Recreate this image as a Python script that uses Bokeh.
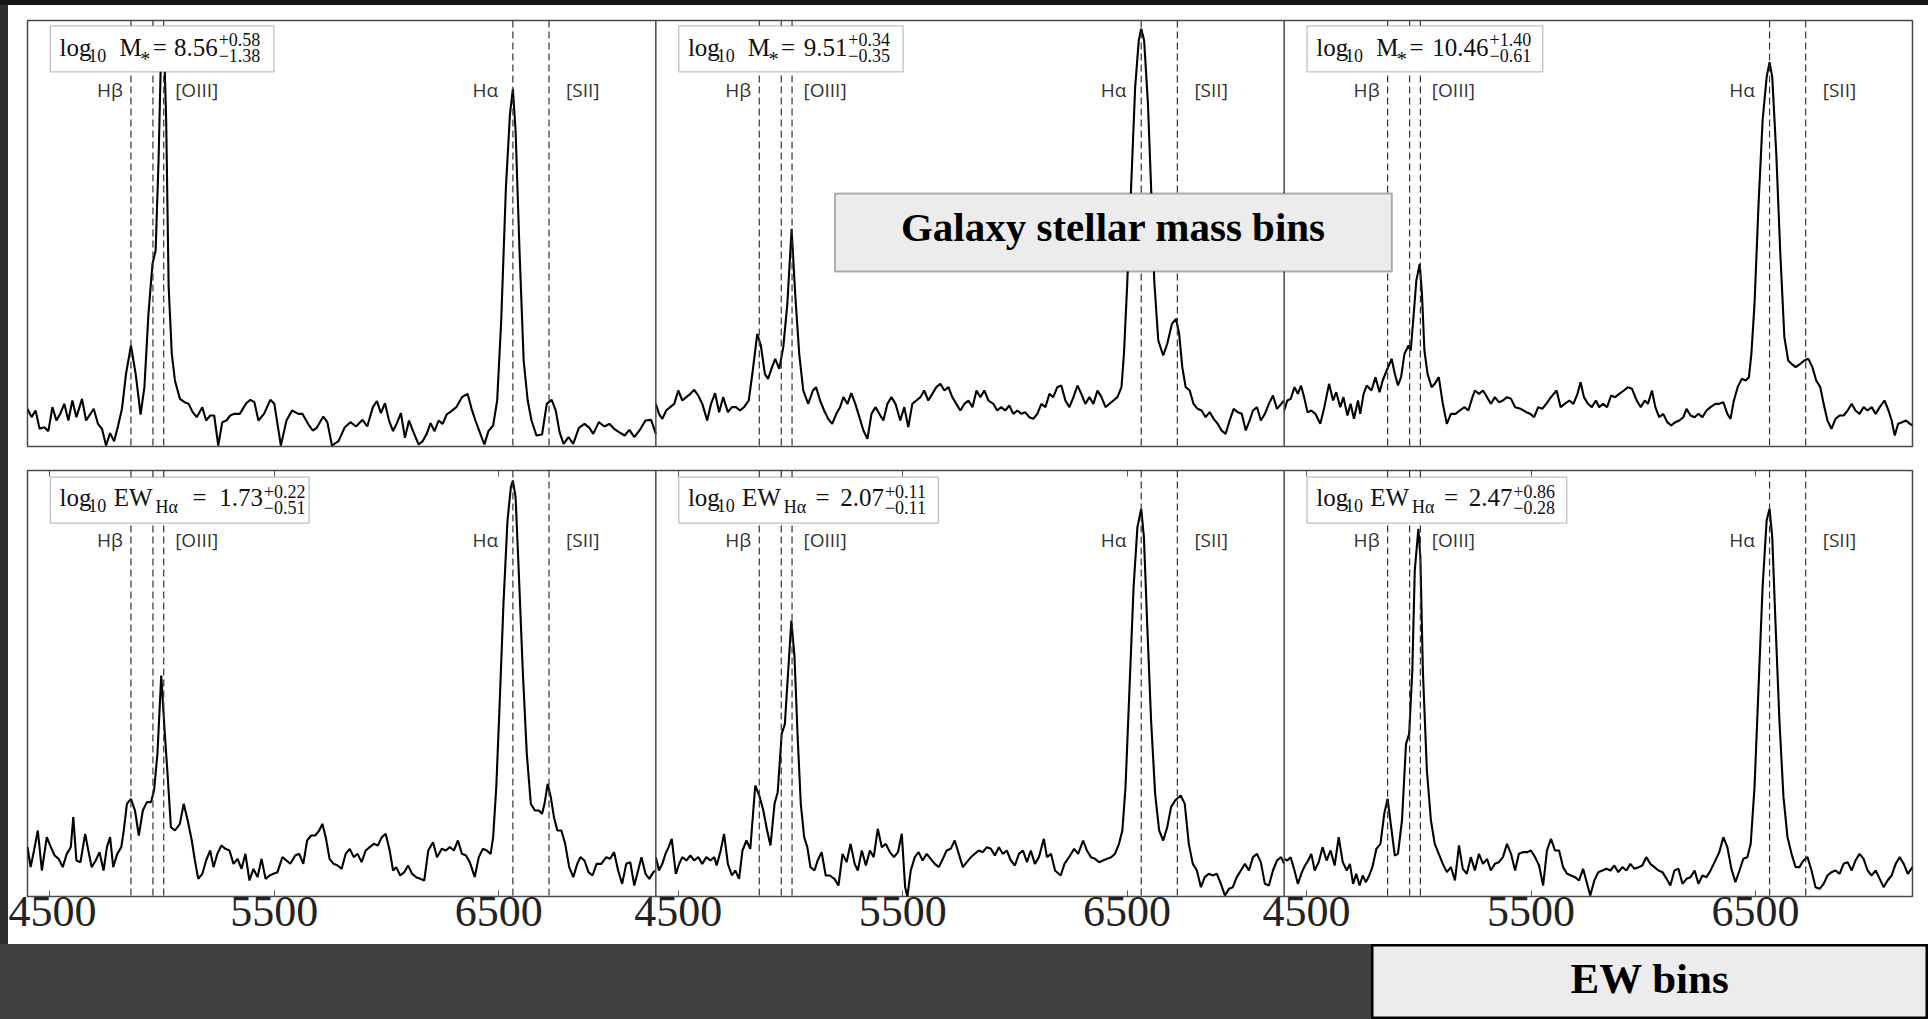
from bokeh.plotting import figure
from bokeh.models import Range1d, LinearAxis, FixedTicker, Span, BoxAnnotation, Div, Label
from bokeh.layouts import column, row
from bokeh.embed import file_html
from bokeh.resources import INLINE
from bokeh.core.properties import value

# ------------------------------------------------------------------ data
# wavelengths (Angstrom) and relative flux
wl_m1 = [
    4400, 4418, 4436, 4454, 4475, 4493, 4511, 4529, 4546, 4564,
    4582, 4600, 4618, 4643, 4661, 4695, 4714, 4732, 4750, 4768,
    4786, 4804, 4821, 4839, 4861, 4882, 4904, 4921, 4939, 4957,
    4971, 4984, 4995, 5007, 5018, 5029, 5043, 5057, 5079, 5100,
    5118, 5136, 5154, 5179, 5196, 5214, 5232, 5250, 5268, 5286,
    5304, 5321, 5346, 5373, 5393, 5411, 5429, 5454, 5482, 5500,
    5529, 5554, 5579, 5607, 5625, 5650, 5671, 5689, 5718, 5736,
    5757, 5786, 5814, 5839, 5864, 5893, 5914, 5939, 5957, 5975,
    5993, 6011, 6029, 6046, 6064, 6082, 6100, 6118, 6143, 6161,
    6179, 6196, 6214, 6232, 6250, 6268, 6289, 6311, 6336, 6361,
    6379, 6396, 6418, 6436, 6454, 6475, 6493, 6511, 6532, 6550,
    6563, 6575, 6593, 6611, 6629, 6646, 6668, 6693, 6714, 6736,
    6754, 6771, 6789, 6811, 6832, 6857, 6882, 6904, 6921, 6946,
    6971, 6993, 7014, 7036, 7061, 7082, 7104, 7129, 7154, 7179,
    7200]
fl_m1 = [
    11.3, 8.8, 10.8, 5.3, 5.8, 4.6, 11.8, 7.8, 9.8, 12.8,
    7.8, 13.8, 8.8, 14.3, 7.8, 11.3, 6.8, 5.3, 0.3, 4.0,
    1.6, 6.3, 11.3, 21.8, 30.3, 21.8, 9.6, 17.8, 39.8, 54.8,
    58.8, 85.8, 117.8, 124.0, 97.8, 47.8, 27.8, 19.8, 14.3, 13.3,
    12.8, 10.3, 8.8, 11.8, 7.8, 9.3, 9.3, 0.3, 7.3, 7.8,
    9.3, 9.8, 9.8, 12.8, 14.0, 13.3, 7.8, 9.8, 14.0, 12.8,
    0.3, 7.8, 10.8, 9.8, 9.8, 6.8, 4.8, 5.6, 9.0, 7.3,
    0.3, 1.6, 5.8, 7.3, 6.0, 8.0, 6.0, 11.8, 13.6, 10.0,
    13.0, 7.8, 4.6, 7.0, 10.0, 2.6, 7.8, 4.6, 0.6, 1.6,
    3.8, 7.0, 4.6, 7.8, 6.8, 9.6, 10.6, 11.8, 14.8, 15.8,
    11.3, 7.8, 3.8, 0.6, 4.6, 6.3, 13.8, 37.8, 77.8, 99.8,
    107.3, 94.8, 57.8, 25.8, 13.8, 7.8, 3.3, 3.6, 12.8, 14.0,
    10.8, 4.3, 0.8, 2.8, 0.8, 5.6, 6.8, 5.6, 3.8, 7.3,
    6.0, 6.8, 5.3, 4.3, 3.3, 5.0, 2.8, 5.0, 7.8, 8.0,
    3.8]

wl_m2 = [
    4400, 4414, 4429, 4446, 4464, 4482, 4500, 4518, 4536, 4554,
    4571, 4589, 4607, 4629, 4646, 4664, 4682, 4700, 4721, 4739,
    4757, 4775, 4793, 4814, 4832, 4852, 4868, 4886, 4900, 4918,
    4932, 4950, 4968, 4986, 5005, 5021, 5039, 5057, 5079, 5100,
    5114, 5132, 5150, 5168, 5186, 5204, 5221, 5236, 5254, 5271,
    5289, 5307, 5325, 5343, 5361, 5379, 5396, 5414, 5432, 5450,
    5468, 5489, 5507, 5525, 5543, 5561, 5579, 5596, 5614, 5632,
    5650, 5668, 5686, 5704, 5721, 5739, 5757, 5775, 5793, 5811,
    5829, 5846, 5864, 5882, 5904, 5921, 5939, 5957, 5975, 5993,
    6011, 6029, 6046, 6064, 6082, 6100, 6118, 6136, 6154, 6171,
    6189, 6207, 6225, 6243, 6261, 6279, 6296, 6314, 6332, 6350,
    6368, 6386, 6404, 6421, 6439, 6457, 6475, 6486, 6500, 6518,
    6536, 6552, 6563, 6576, 6593, 6607, 6621, 6639, 6661, 6679,
    6700, 6718, 6732, 6746, 6761, 6779, 6796, 6814, 6832, 6850,
    6868, 6886, 6904, 6921, 6939, 6957, 6975, 6993, 7011, 7029,
    7046, 7061, 7079, 7096, 7114, 7132, 7150, 7168, 7200]
fl_m2 = [
    12.8, 9.8, 8.3, 10.8, 11.8, 12.8, 16.8, 13.8, 14.8, 15.8,
    17.0, 15.3, 12.8, 7.8, 12.8, 16.0, 10.3, 14.8, 10.3, 11.8,
    11.8, 10.8, 11.8, 13.8, 22.8, 33.8, 30.3, 21.8, 20.3, 23.8,
    26.3, 23.3, 29.8, 42.8, 65.3, 45.8, 27.8, 16.8, 12.8, 16.8,
    17.8, 13.8, 10.8, 8.3, 6.8, 9.8, 11.8, 14.8, 12.8, 16.0,
    12.8, 8.8, 4.8, 2.3, 9.8, 11.8, 9.8, 7.8, 12.8, 14.8,
    12.8, 7.8, 11.8, 5.8, 12.8, 13.8, 14.8, 16.8, 13.8, 15.8,
    17.8, 18.8, 16.8, 17.8, 14.8, 12.8, 10.8, 12.8, 13.8, 11.8,
    16.8, 14.8, 16.8, 13.8, 12.8, 10.8, 11.8, 10.8, 12.3, 9.8,
    10.8, 9.8, 10.3, 8.8, 8.3, 9.8, 12.8, 11.8, 15.8, 14.8,
    17.8, 18.3, 13.8, 11.8, 14.8, 18.3, 15.8, 12.8, 14.8, 12.8,
    16.8, 14.8, 11.8, 12.8, 13.8, 14.8, 17.8, 27.8, 47.8, 77.8,
    107.8, 121.8, 125.3, 121.8, 102.8, 77.8, 49.8, 31.8, 27.3, 30.8,
    36.8, 38.3, 33.8, 23.8, 17.8, 16.8, 12.8, 11.3, 10.8, 8.8,
    10.3, 8.3, 6.8, 4.8, 3.8, 7.8, 11.3, 10.3, 9.8, 4.8,
    7.8, 10.8, 11.8, 7.8, 9.8, 12.8, 15.3, 11.3, 13.8]

wl_m3 = [
    4400, 4414, 4429, 4446, 4461, 4475, 4489, 4504, 4521, 4539,
    4561, 4579, 4600, 4618, 4632, 4650, 4664, 4682, 4696, 4711,
    4729, 4739, 4754, 4768, 4789, 4807, 4825, 4839, 4857, 4879,
    4893, 4907, 4921, 4936, 4954, 4964, 4975, 4989, 5004, 5014,
    5025, 5039, 5057, 5071, 5089, 5107, 5125, 5143, 5164, 5182,
    5204, 5221, 5239, 5250, 5268, 5286, 5304, 5321, 5339, 5357,
    5375, 5393, 5411, 5429, 5454, 5479, 5496, 5514, 5532, 5550,
    5568, 5589, 5614, 5632, 5650, 5671, 5689, 5707, 5721, 5736,
    5754, 5771, 5789, 5804, 5821, 5839, 5857, 5875, 5893, 5914,
    5932, 5950, 5971, 5989, 6007, 6021, 6039, 6054, 6071, 6089,
    6107, 6125, 6143, 6161, 6179, 6193, 6211, 6229, 6246, 6264,
    6282, 6300, 6321, 6339, 6357, 6375, 6389, 6404, 6421, 6439,
    6457, 6471, 6482, 6496, 6514, 6532, 6550, 6563, 6575, 6593,
    6611, 6629, 6646, 6661, 6679, 6700, 6718, 6736, 6754, 6771,
    6789, 6804, 6821, 6839, 6857, 6875, 6893, 6911, 6929, 6946,
    6964, 6982, 7000, 7018, 7036, 7054, 7075, 7093, 7107, 7121,
    7136, 7154, 7171, 7189, 7200]
fl_m3 = [
    10.8, 13.8, 14.3, 17.8, 15.8, 18.3, 14.8, 10.3, 10.8, 9.8,
    6.8, 11.8, 18.8, 13.8, 16.3, 11.8, 14.8, 9.3, 12.8, 8.3,
    13.8, 9.8, 15.8, 18.3, 16.8, 20.8, 16.3, 19.8, 22.8, 26.3,
    21.8, 18.3, 20.8, 27.8, 30.3, 28.8, 37.8, 49.8, 54.8, 45.8,
    28.8, 21.8, 17.8, 18.8, 20.8, 12.8, 6.8, 9.8, 9.8, 10.8,
    11.8, 10.8, 14.8, 16.8, 15.8, 16.8, 14.8, 12.8, 14.8, 13.3,
    13.8, 14.8, 14.3, 11.8, 11.3, 10.3, 9.8, 8.8, 11.8, 11.3,
    12.8, 14.8, 16.8, 11.8, 12.8, 13.8, 12.8, 15.8, 19.3, 14.8,
    12.8, 11.8, 13.8, 11.8, 12.8, 11.8, 15.3, 14.8, 15.8, 16.8,
    17.8, 17.3, 13.8, 11.8, 13.8, 12.8, 16.8, 11.8, 8.8, 9.8,
    7.3, 6.3, 7.3, 7.8, 8.8, 11.3, 9.3, 8.8, 9.8, 8.8,
    10.8, 11.8, 12.8, 12.8, 13.3, 9.8, 8.3, 13.8, 17.8, 20.3,
    19.8, 20.8, 27.8, 42.8, 72.8, 97.8, 110.8, 115.3, 110.8, 87.8,
    57.8, 32.8, 25.8, 24.8, 23.8, 24.8, 25.8, 26.3, 23.8, 19.8,
    17.8, 12.8, 7.8, 5.3, 8.3, 9.3, 9.3, 10.8, 12.8, 10.8,
    9.8, 11.8, 10.8, 11.8, 9.8, 11.8, 13.8, 10.8, 7.8, 3.3,
    6.8, 7.3, 7.8, 6.8, 6.3]

wl_e1 = [
    4400, 4414, 4429, 4446, 4464, 4486, 4504, 4521, 4539, 4557,
    4575, 4593, 4604, 4618, 4636, 4657, 4671, 4686, 4704, 4721,
    4739, 4754, 4768, 4782, 4800, 4818, 4829, 4843, 4861, 4879,
    4896, 4914, 4932, 4950, 4964, 4979, 4996, 5011, 5025, 5039,
    5057, 5079, 5096, 5114, 5132, 5146, 5161, 5179, 5196, 5214,
    5229, 5246, 5264, 5282, 5300, 5318, 5336, 5354, 5371, 5389,
    5407, 5425, 5443, 5461, 5479, 5496, 5514, 5536, 5554, 5571,
    5593, 5611, 5629, 5646, 5664, 5682, 5700, 5714, 5729, 5746,
    5764, 5782, 5800, 5818, 5836, 5854, 5871, 5889, 5907, 5925,
    5943, 5961, 5979, 5996, 6014, 6029, 6043, 6061, 6079, 6096,
    6114, 6132, 6150, 6168, 6186, 6207, 6225, 6246, 6264, 6282,
    6300, 6318, 6336, 6354, 6371, 6393, 6411, 6429, 6446, 6464,
    6475, 6489, 6504, 6521, 6539, 6554, 6563, 6575, 6589, 6607,
    6625, 6643, 6661, 6679, 6693, 6704, 6718, 6732, 6746, 6761,
    6779, 6796, 6814, 6832, 6850, 6864, 6882, 6900, 6918, 6936,
    6957, 6979, 6996, 7014, 7032, 7050, 7068, 7086, 7104, 7121,
    7136, 7154, 7171, 7189, 7200]
fl_e1 = [
    14.8, 8.8, 13.8, 19.8, 7.8, 17.8, 14.8, 12.3, 11.3, 8.8,
    12.8, 14.8, 23.8, 10.8, 10.3, 18.8, 13.8, 8.8, 10.8, 13.3,
    7.8, 14.8, 17.8, 8.8, 12.8, 14.8, 19.8, 27.8, 29.3, 25.8,
    18.3, 25.8, 28.3, 28.3, 31.8, 42.8, 66.3, 49.8, 35.8, 20.8,
    19.8, 21.8, 27.8, 22.8, 16.8, 10.8, 5.3, 6.8, 10.8, 13.8,
    8.8, 12.8, 15.3, 14.3, 13.8, 9.8, 11.3, 8.3, 12.8, 4.8,
    8.3, 5.8, 11.3, 5.3, 6.3, 6.8, 7.3, 11.8, 10.8, 9.8,
    12.3, 12.8, 9.8, 16.8, 18.3, 18.3, 19.8, 21.8, 17.8, 11.3,
    9.8, 9.3, 8.3, 12.8, 14.3, 11.8, 12.8, 10.3, 13.8, 14.8,
    15.8, 15.3, 17.8, 18.8, 13.8, 7.8, 8.8, 6.3, 7.3, 9.3,
    6.8, 5.8, 5.3, 4.8, 13.8, 16.3, 11.8, 14.3, 13.8, 14.8,
    13.8, 16.8, 12.8, 12.3, 10.3, 5.8, 11.8, 14.3, 13.8, 12.8,
    17.8, 32.8, 57.8, 87.8, 112.8, 122.8, 124.8, 119.8, 97.8, 67.8,
    42.8, 27.8, 25.8, 25.8, 24.8, 27.8, 33.8, 29.8, 23.8, 19.8,
    19.8, 15.8, 8.8, 5.8, 9.8, 11.8, 10.8, 7.3, 6.3, 9.8,
    9.8, 11.8, 11.3, 13.3, 7.8, 3.8, 9.8, 10.3, 3.3, 7.8,
    11.8, 6.8, 5.3, 7.3, 7.8]

wl_e2 = [
    4400, 4414, 4429, 4443, 4457, 4471, 4489, 4504, 4518, 4536,
    4554, 4571, 4589, 4607, 4625, 4643, 4661, 4671, 4689, 4704,
    4721, 4739, 4754, 4771, 4786, 4804, 4821, 4843, 4861, 4879,
    4896, 4911, 4929, 4943, 4961, 4975, 5004, 5018, 5032, 5046,
    5061, 5075, 5089, 5107, 5121, 5139, 5157, 5175, 5196, 5214,
    5232, 5250, 5268, 5286, 5300, 5318, 5336, 5354, 5371, 5389,
    5407, 5425, 5443, 5461, 5479, 5496, 5511, 5521, 5536, 5554,
    5571, 5589, 5607, 5625, 5643, 5661, 5679, 5696, 5714, 5732,
    5750, 5768, 5786, 5804, 5821, 5839, 5857, 5875, 5893, 5911,
    5929, 5946, 5964, 5982, 6000, 6018, 6036, 6054, 6071, 6089,
    6107, 6129, 6143, 6161, 6179, 6204, 6221, 6246, 6264, 6282,
    6304, 6321, 6339, 6357, 6375, 6393, 6411, 6429, 6446, 6464,
    6479, 6493, 6511, 6529, 6546, 6563, 6575, 6589, 6607, 6625,
    6643, 6661, 6679, 6696, 6714, 6739, 6757, 6775, 6793, 6811,
    6829, 6846, 6864, 6882, 6900, 6918, 6936, 6954, 6971, 6989,
    7007, 7025, 7043, 7061, 7079, 7096, 7114, 7132, 7150, 7168,
    7186, 7200]
fl_e2 = [
    11.8, 7.8, 9.8, 12.8, 14.8, 17.3, 6.8, 9.8, 11.8, 10.8,
    12.3, 10.8, 11.8, 9.8, 11.8, 10.8, 11.8, 9.3, 13.8, 18.8,
    9.8, 6.3, 7.8, 5.3, 13.8, 16.8, 14.3, 33.3, 30.3, 25.8,
    19.8, 15.3, 27.8, 31.3, 48.8, 51.8, 82.8, 71.8, 47.8, 27.8,
    17.8, 14.8, 8.8, 7.8, 10.8, 13.3, 6.3, 6.3, 5.3, 3.3,
    12.8, 10.3, 15.8, 9.8, 7.8, 13.8, 9.3, 13.8, 11.8, 20.3,
    14.8, 15.8, 13.3, 11.8, 13.3, 18.8, 2.8, 0.0, 7.8, 11.8,
    13.3, 10.8, 12.8, 11.3, 9.8, 8.8, 11.3, 13.8, 14.3, 16.8,
    12.8, 8.8, 10.3, 11.8, 12.8, 13.8, 13.3, 14.8, 14.3, 12.3,
    14.8, 12.8, 13.8, 10.8, 9.3, 12.8, 13.8, 10.3, 13.8, 9.8,
    11.8, 17.3, 11.8, 12.8, 7.8, 6.3, 9.8, 12.3, 14.3, 12.8,
    16.8, 13.8, 11.8, 11.3, 10.3, 10.8, 11.3, 11.8, 12.8, 15.8,
    19.8, 32.8, 62.8, 92.8, 110.8, 116.3, 107.8, 82.8, 52.8, 30.8,
    19.8, 16.8, 20.8, 26.8, 28.8, 30.3, 27.8, 15.8, 9.8, 7.8,
    2.8, 5.8, 6.8, 6.3, 6.8, 3.8, 0.3, 2.3, 2.8, 5.8,
    7.8, 9.8, 7.8, 11.8, 12.8, 10.3, 3.8, 3.3, 7.8, 10.8,
    11.8, 9.8]

wl_e3 = [
    4400, 4414, 4429, 4446, 4461, 4479, 4493, 4507, 4521, 4536,
    4554, 4571, 4589, 4607, 4625, 4643, 4661, 4679, 4693, 4707,
    4721, 4736, 4750, 4764, 4779, 4793, 4811, 4829, 4846, 4861,
    4875, 4893, 4907, 4925, 4943, 4957, 4971, 4982, 4998, 5007,
    5018, 5036, 5054, 5071, 5089, 5107, 5125, 5143, 5161, 5179,
    5196, 5214, 5232, 5250, 5268, 5286, 5304, 5321, 5339, 5357,
    5375, 5393, 5411, 5429, 5446, 5464, 5482, 5500, 5518, 5536,
    5554, 5571, 5589, 5607, 5625, 5643, 5661, 5679, 5696, 5714,
    5732, 5750, 5764, 5782, 5800, 5818, 5836, 5854, 5871, 5889,
    5907, 5925, 5943, 5961, 5979, 5996, 6014, 6032, 6050, 6068,
    6086, 6104, 6121, 6139, 6157, 6175, 6193, 6211, 6229, 6246,
    6264, 6282, 6300, 6318, 6339, 6357, 6375, 6393, 6411, 6429,
    6446, 6464, 6479, 6496, 6514, 6532, 6550, 6563, 6575, 6589,
    6607, 6625, 6643, 6661, 6679, 6696, 6714, 6732, 6750, 6768,
    6786, 6804, 6821, 6839, 6857, 6875, 6893, 6911, 6929, 6946,
    6964, 6982, 7000, 7018, 7036, 7054, 7071, 7089, 7107, 7125,
    7143, 7161, 7179, 7200]
fl_e3 = [
    11.3, 10.8, 11.8, 7.8, 3.8, 7.3, 9.3, 10.8, 12.8, 7.8,
    10.3, 14.8, 10.8, 13.8, 9.3, 17.8, 10.3, 7.8, 9.8, 3.8,
    6.8, 3.3, 6.3, 4.3, 6.3, 8.8, 14.3, 15.8, 24.8, 29.3,
    21.8, 12.3, 12.8, 22.8, 45.8, 48.8, 67.8, 97.8, 110.3, 101.8,
    67.8, 37.8, 22.8, 15.8, 12.8, 9.8, 7.3, 8.8, 4.8, 15.3,
    8.3, 6.8, 11.8, 7.8, 12.8, 9.8, 11.3, 7.8, 9.8, 10.3,
    11.8, 15.8, 12.8, 7.8, 12.8, 13.3, 13.3, 13.8, 11.8, 9.3,
    3.3, 13.8, 17.3, 13.8, 13.8, 8.8, 6.8, 6.3, 5.8, 4.8,
    8.3, 3.8, 0.3, 4.8, 7.3, 7.8, 8.3, 7.8, 9.3, 7.3,
    8.8, 7.8, 9.8, 8.3, 8.8, 9.3, 11.8, 9.8, 8.8, 7.8,
    7.3, 5.3, 3.3, 7.8, 8.3, 3.8, 5.3, 5.8, 7.8, 3.8,
    6.3, 5.8, 7.8, 10.3, 13.3, 17.8, 14.8, 8.3, 4.3, 7.8,
    11.3, 11.8, 15.8, 32.8, 62.8, 92.8, 112.8, 116.3, 107.8, 82.8,
    52.8, 29.8, 17.8, 12.8, 8.8, 8.8, 10.8, 11.8, 7.8, 2.8,
    2.3, 3.8, 6.3, 7.3, 7.8, 6.8, 9.8, 10.3, 7.8, 10.8,
    12.8, 11.3, 7.8, 6.3, 7.8, 5.3, 2.8, 4.8, 6.3, 9.8,
    11.8, 9.8, 6.8, 8.8]

line_wavelengths = [4861, 4959, 5007, 6563, 6724]   # Hb, [OIII] x2, Ha, [SII]
line_names_left = ["Hβ", "Hα"]                        # written left of their line
line_names_right = ["[OIII]", "[SII]"]                # written right of their line
tick_values = [4500, 5500, 6500]

mass_value = ["8.56", "9.51", "10.46"]
mass_plus = ["+0.58", "+0.34", "+1.40"]
mass_minus = ["−1.38", "−0.35", "−0.61"]
ew_value = ["1.73", "2.07", "2.47"]
ew_plus = ["+0.22", "+0.11", "+0.86"]
ew_minus = ["−0.51", "−0.11", "−0.28"]

for a, b in [(wl_m1, fl_m1), (wl_m2, fl_m2), (wl_m3, fl_m3),
             (wl_e1, fl_e1), (wl_e2, fl_e2), (wl_e3, fl_e3)]:
    assert len(a) == len(b), (len(a), len(b))

# ------------------------------------------------------------------ layout constants
X_MIN, X_MAX = 4400, 7200
SPAN_X = X_MAX - X_MIN
Y_MAX = 127.8
RNAMES = ["default", "p1", "p2"]
SERIF = "Liberation Serif"
SANS = "Open Sans"

LEFT_LABEL_X = [4825, 6497]
RIGHT_LABEL_X = [5058, 6800]
LABEL_Y = 106.9
BOX_LEFT = 4502
X_LOG, X_SUB10, X_M, X_STAR, X_EQ_M = 4543, 4671, 4810, 4902, 4958
X_EW, X_HA = 4784, 4970
X_EQ_EW = [5135, 5112, 5112]
mass_box_right = [5498, 5502, 5552]
mass_sup_x = [5252, 5258, 5315]
ew_box_right = [5655, 5659, 5659]
ew_sup_x = [5453, 5421, 5421]
MAIN, SMALL = "25px", "18px"


def make_row(spectra, top_border, bottom_border, with_axis):
    p = figure(frame_width=1885, frame_height=426,
               min_border_left=19, min_border_right=16,
               min_border_top=top_border, min_border_bottom=bottom_border,
               x_range=Range1d(X_MIN, X_MIN + 3 * SPAN_X),
               y_range=Range1d(0, Y_MAX),
               x_axis_location="below" if with_axis else None,
               y_axis_location=None,
               toolbar_location=None, output_backend="svg", title=None,
               background_fill_color="white", border_fill_color="white",
               outline_line_color="#4a4a4a", outline_line_width=1.5)
    p.extra_x_ranges = {"p1": Range1d(X_MIN - SPAN_X, X_MIN + 2 * SPAN_X),
                        "p2": Range1d(X_MIN - 2 * SPAN_X, X_MIN + SPAN_X)}
    p.xgrid.visible = False
    p.ygrid.visible = False

    for k in range(2):
        p.add_layout(Span(location=X_MAX, dimension="height", x_range_name=RNAMES[k],
                          line_color="#4a4a4a", line_width=1.5))
    for k in range(3):
        for lw in line_wavelengths:
            p.add_layout(Span(location=lw, dimension="height", x_range_name=RNAMES[k],
                              line_color="#333333", line_width=1.2, line_dash="7 4"))
    for k, (wl, fl) in enumerate(spectra):
        rn = RNAMES[k]
        p.line(wl, fl, x_range_name=rn, line_color="black", line_width=2.1)
        p.text(x=LEFT_LABEL_X, y=[LABEL_Y] * 2, text=line_names_left, x_range_name=rn,
               text_align="right", text_baseline="middle", text_font=value(SANS),
               text_font_size="19px", text_color="#333333")
        p.text(x=RIGHT_LABEL_X, y=[LABEL_Y] * 2, text=line_names_right, x_range_name=rn,
               text_align="left", text_baseline="middle", text_font=value(SANS),
               text_font_size="19px", text_color="#333333")

    if with_axis:
        all_ticks = [t + SPAN_X * k for k in range(3) for t in tick_values]
        ax = p.xaxis[0]
        ax.ticker = FixedTicker(ticks=all_ticks)
        ax.major_label_overrides = {t + SPAN_X * k: str(t) for k in range(3) for t in tick_values}
        ax.major_label_text_font = SERIF
        ax.major_label_text_font_size = "44px"
        ax.major_label_text_color = "#222222"
        ax.major_label_standoff = 0
        ax.major_tick_in = 6
        ax.major_tick_out = 0
        ax.major_tick_line_color = "#555555"
        ax.minor_tick_line_color = None
        ax.axis_line_color = None
        top_ax = LinearAxis(ticker=FixedTicker(ticks=all_ticks),
                            major_label_overrides={t: "" for t in all_ticks},
                            major_tick_in=6, major_tick_out=0, major_label_standoff=0,
                            major_tick_line_color="#555555", minor_tick_line_color=None,
                            axis_line_color=None)
        p.add_layout(top_ax, "above")
    return p


def overlay_text(p, rn, x, y, txt, size, align="left"):
    p.text(x=[x], y=[y], text=[txt], x_range_name=rn, text_align=align,
           text_baseline="middle", text_font=value(SERIF), text_font_size=size,
           text_color="#111111", level="overlay")


# ------------------------------------------------------------------ top row: stellar mass bins
p_top = make_row([(wl_m1, fl_m1), (wl_m2, fl_m2), (wl_m3, fl_m3)], 15, 2, False)
for k in range(3):
    rn = RNAMES[k]
    p_top.add_layout(BoxAnnotation(left=BOX_LEFT, right=mass_box_right[k], top=126.2, bottom=112.4,
                                   x_range_name=rn, fill_color="white", fill_alpha=1.0,
                                   line_color="#333333", line_width=1.3))
    overlay_text(p_top, rn, X_LOG, 119.6, "log", MAIN)
    overlay_text(p_top, rn, X_SUB10, 117.3, "10", SMALL)
    overlay_text(p_top, rn, X_M, 119.6, "M", MAIN)
    overlay_text(p_top, rn, X_STAR, 116.3, "*", "20px")
    overlay_text(p_top, rn, X_EQ_M, 119.6, "=", MAIN)
    overlay_text(p_top, rn, mass_sup_x[k] - 4, 119.6, mass_value[k], MAIN, "right")
    overlay_text(p_top, rn, mass_sup_x[k], 122.0, mass_plus[k], SMALL)
    overlay_text(p_top, rn, mass_sup_x[k], 117.2, mass_minus[k], SMALL)

p_top.add_layout(BoxAnnotation(left=5198, right=7680, top=75.9, bottom=52.5, x_range_name="p1",
                               fill_color="#ececec", fill_alpha=1.0,
                               line_color="black", line_width=2))
p_top.text(x=[6439], y=[66.0], text=["Galaxy stellar mass bins"], x_range_name="p1",
           text_align="center", text_baseline="middle", text_font=value(SERIF),
           text_font_style="bold", text_font_size="41px", text_color="black", level="overlay")

# ------------------------------------------------------------------ bottom row: EW bins
p_bot = make_row([(wl_e1, fl_e1), (wl_e2, fl_e2), (wl_e3, fl_e3)], 22, 48, True)
for k in range(3):
    rn = RNAMES[k]
    p_bot.add_layout(BoxAnnotation(left=BOX_LEFT, right=ew_box_right[k], top=125.8, bottom=112.0,
                                   x_range_name=rn, fill_color="white", fill_alpha=1.0,
                                   line_color="#333333", line_width=1.3))
    overlay_text(p_bot, rn, X_LOG, 119.6, "log", MAIN)
    overlay_text(p_bot, rn, X_SUB10, 117.3, "10", SMALL)
    overlay_text(p_bot, rn, X_EW, 119.6, "EW", MAIN)
    overlay_text(p_bot, rn, X_HA, 116.8, "Hα", SMALL)
    overlay_text(p_bot, rn, X_EQ_EW[k], 119.6, "=", MAIN)
    overlay_text(p_bot, rn, ew_sup_x[k] - 4, 119.6, ew_value[k], MAIN, "right")
    overlay_text(p_bot, rn, ew_sup_x[k], 121.6, ew_plus[k], SMALL)
    overlay_text(p_bot, rn, ew_sup_x[k], 116.7, ew_minus[k], SMALL)

# ------------------------------------------------------------------ "EW bins" caption box
p_ew = figure(width=557, height=75, x_range=Range1d(0, 1), y_range=Range1d(0, 1),
              min_border=0, x_axis_location=None, y_axis_location=None,
              toolbar_location=None, output_backend="svg", title=None,
              background_fill_color="#ececec", border_fill_color="#ececec",
              outline_line_color="black", outline_line_width=4)
p_ew.xgrid.visible = False
p_ew.ygrid.visible = False
p_ew.add_layout(Label(x=0.5, y=0.547, text="EW bins", text_align="center",
                      text_baseline="middle", text_font=SERIF, text_font_style="bold",
                      text_font_size="43px", text_color="black"))


def block(w, h, color):
    return Div(text="", width=w, height=h, margin=(0, 0, 0, 0),
               styles={"background-color": color})


layout = column(
    block(1928, 5, "#171717"),
    row(block(8, 939, "#2e2e2e"), column(p_top, p_bot, spacing=0), spacing=0),
    row(block(1371, 75, "#404040"), p_ew, spacing=0),
    spacing=0,
)

open("out.html", "w").write(file_html(layout, INLINE))
